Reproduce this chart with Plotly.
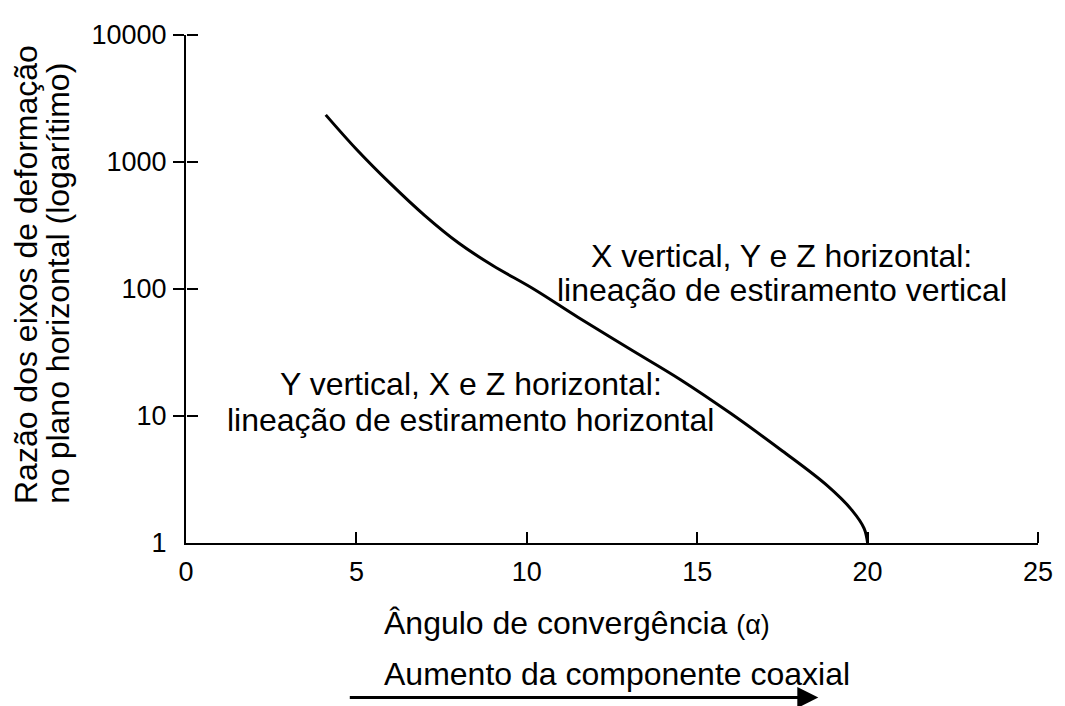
import plotly.graph_objects as go

# convergence angle (alpha) and strain-axis ratio
angle = [4.1, 5.0, 6.0, 7.0, 8.0, 9.0, 10.2, 11.5, 13.0, 14.5, 16.0, 17.5,
         18.8, 19.55, 19.9, 20.0]
ratio = [2350, 1260, 675, 380, 230, 153, 100, 60, 34, 19.4, 10.4, 5.3,
         2.85, 1.8, 1.3, 1.0]

x_ticks = [0, 5, 10, 15, 20, 25]
y_ticks = [1, 10, 100, 1000, 10000]
y_tick_text = ['1', '10', '100', '1000', '10000']

FONT = 'Liberation Sans, Arial, sans-serif'
# the page body adds an 8px margin, so the figure is drawn 8px smaller
W, H = 1057, 698
L, R, T, B = 178, 22, 19, 163


def px(x):
    # screen pixel -> paper x
    return (x - 186) / 857


def py(y):
    # screen pixel -> paper y
    return (543 - y) / 516


fig = go.Figure()
fig.add_trace(go.Scatter(
    x=angle, y=ratio, mode='lines', line_shape='spline',
    line=dict(color='black', width=3), hoverinfo='skip'))
# empty trace so the tick-only overlay axes get drawn
fig.add_trace(go.Scatter(x=[None], y=[None], xaxis='x2', yaxis='y2',
                         hoverinfo='skip', showlegend=False))

tick = dict(ticklen=11, tickwidth=2, tickcolor='black')

fig.update_layout(
    width=W, height=H, margin=dict(l=L, r=R, t=T, b=B),
    paper_bgcolor='white', plot_bgcolor='white', showlegend=False,
    font=dict(family=FONT, color='black', size=27),
    xaxis=dict(range=[0, 25], tickvals=x_ticks, ticks='', showline=True,
               linewidth=2, linecolor='black', showgrid=False,
               zeroline=False, ticklabelstandoff=4, tickfont=dict(size=27)),
    # upward ticks: a top-side axis pinned to the bottom edge
    xaxis2=dict(range=[0, 25], tickvals=x_ticks[1:], ticks='outside',
                overlaying='x', side='top', anchor='free', position=0,
                showticklabels=False, showline=False, showgrid=False,
                zeroline=False, **tick),
    yaxis=dict(type='log', range=[0, 4], tickvals=y_ticks,
               ticktext=y_tick_text, ticks='', showline=True, linewidth=2,
               linecolor='black', showgrid=False, zeroline=False,
               ticklabelstandoff=12, tickfont=dict(size=27),
               minor=dict(tickvals=y_ticks[1:], ticks='outside',
                          showgrid=False, **tick)),
    # rightward half of the crossing y ticks
    yaxis2=dict(type='log', range=[0, 4], tickvals=y_ticks[1:],
                ticks='outside', overlaying='y', side='right',
                anchor='free', position=0, showticklabels=False,
                showline=False, showgrid=False, zeroline=False, **tick),
)

ann = []
# y title, two rotated lines starting from the bottom
for text, xc in [('Razão dos eixos de deformação', 25),
                 ('no plano horizontal (logarítimo)', 57)]:
    ann.append(dict(text=text, x=px(xc), y=py(505), xref='paper',
                    yref='paper', xanchor='center', yanchor='bottom',
                    textangle=-90, showarrow=False, font=dict(size=32)))

# region labels
for text, xc, yc in [('X vertical, Y e Z horizontal:', 785, 251),
                     ('lineação de estiramento vertical', 785, 286),
                     ('Y vertical, X e Z horizontal:', 473, 381),
                     ('lineação de estiramento horizontal', 472, 418)]:
    ann.append(dict(text=text, x=px(xc), y=py(yc), xref='paper',
                    yref='paper', xanchor='center', yanchor='middle',
                    showarrow=False, font=dict(size=32)))

# x title and the arrow below it
ann.append(dict(text='Ângulo de convergência <span style="font-size:27px">(α)</span>',
                x=px(383), y=py(624), xref='paper', yref='paper',
                xanchor='left', yanchor='middle', showarrow=False,
                font=dict(size=32)))
ann.append(dict(text='Aumento da componente coaxial', x=px(383), y=py(676),
                xref='paper', yref='paper', xanchor='left',
                yanchor='middle', showarrow=False, font=dict(size=32)))
ann.append(dict(text='', x=px(822), y=py(700), xref='paper', yref='paper',
                ax=-470, ay=0, showarrow=True, arrowhead=2, arrowsize=1.4,
                arrowwidth=3, arrowcolor='black'))

fig.update_layout(annotations=ann)
fig.write_html('out.html')
